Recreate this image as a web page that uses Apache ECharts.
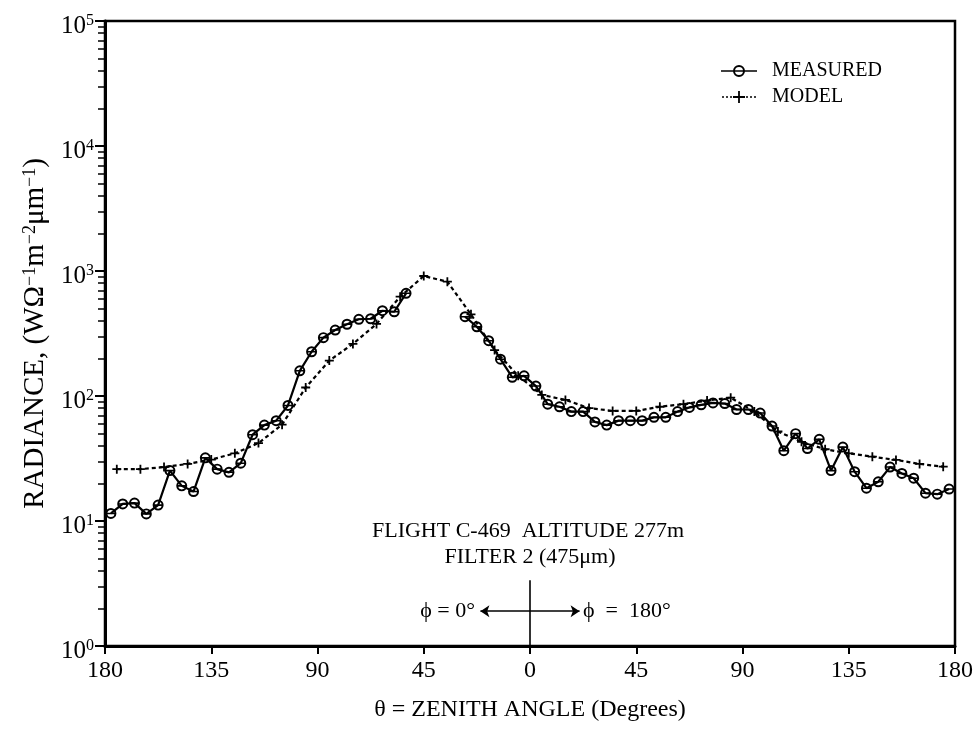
<!DOCTYPE html>
<html>
<head>
<meta charset="utf-8">
<script src="https://cdn.jsdelivr.net/npm/echarts@6/dist/echarts.min.js"></script>
<style>
  html, body { margin: 0; padding: 0; background: #fff; }
  #chart { width: 978px; height: 734px; }
</style>
</head>
<body>
<div id="chart"></div>
<script>
// Zenith angle in degrees: negative = phi 0° side, positive = phi 180° side
const measuredAngle = [
  -177.5, -172.5, -167.5, -162.5, -157.5, -152.5, -147.5, -142.5, -137.5, -132.5,
  -127.5, -122.5, -117.5, -112.5, -107.5, -102.5, -97.5, -92.5, -87.5, -82.5,
  -77.5, -72.5, -67.5, -62.5, -57.5, -52.5, -40,
  -27.5, -22.5, -17.5, -12.5, -7.5, -2.5, 2.5, 7.5, 12.5, 17.5,
  22.5, 27.5, 32.5, 37.5, 42.5, 47.5, 52.5, 57.5, 62.5, 67.5,
  72.5, 77.5, 82.5, 87.5, 92.5, 97.5, 102.5, 107.5, 112.5, 117.5,
  122.5, 127.5, 132.5, 137.5, 142.5, 147.5, 152.5, 157.5, 162.5, 167.5,
  172.5, 177.5
];
// Radiance (W Ω^-1 m^-2 µm^-1); null marks the gap around the sun direction
const measuredRadiance = [
  11.5, 13.7, 13.9, 11.4, 13.4, 25.3, 19.1, 17.2, 32, 26,
  24.5, 29, 49, 58.5, 63.5, 84, 159, 226, 293, 337,
  375, 411, 415, 481, 472, 663, null,
  431, 358, 277, 197, 141, 145, 120, 86, 82, 75,
  75, 62, 58.5, 63.5, 63.5, 63.5, 67.5, 67.5, 75, 81,
  85, 88, 87, 78, 78, 73, 57.5, 36.5, 50, 38,
  45, 25.3, 39, 24.8, 18.3, 20.6, 27, 24, 22, 16.7,
  16.4, 18
];
const modelAngle = [
  -175, -165, -155, -145, -135, -125, -115, -105, -95, -85,
  -75, -65, -55, -45, -35, -25, -15, -5, 5, 15,
  25, 35, 45, 55, 65, 75, 85, 95, 105, 115,
  125, 135, 145, 155, 165, 175
];
const modelRadiance = [
  26, 26, 27, 28.6, 31, 34.8, 42, 59, 117, 192,
  261, 377, 623, 912, 821, 450, 233, 145, 102, 93,
  80, 76, 76, 82, 86, 92, 97, 75, 52, 43,
  37.5, 34.8, 32.7, 30.8, 28.6, 27.2
];
const xTickLabels = ['180', '135', '90', '45', '0', '45', '90', '135', '180'];
const seriesNames = ['MEASURED', 'MODEL'];

const SERIF = "'Liberation Serif', 'DejaVu Serif', serif";

// theta-like marker: ring with a horizontal bar
const THETA = 'path://M10 0A10 10 0 1 1 10 20A10 10 0 1 1 10 0ZM10 3.6A6.4 6.4 0 1 0 10 16.4A6.4 6.4 0 1 0 10 3.6ZM1 8.6L19 8.6L19 11.4L1 11.4Z';
const PLUS = 'path://M8 0L12 0L12 20L8 20ZM0 8L20 8L20 12L0 12Z';
const THETA_LEGEND = 'path://M18 0A6 6 0 1 1 18 12A6 6 0 1 1 18 0ZM18 2A4 4 0 1 0 18 10A4 4 0 1 0 18 2ZM0 5.2L36 5.2L36 6.8L0 6.8Z';
const PLUS_LEGEND = 'path://M17.1 0L18.9 0L18.9 12L17.1 12ZM12 5.1L24 5.1L24 6.9L12 6.9ZM1 5.2L3 5.2L3 6.8L1 6.8ZM5 5.2L7 5.2L7 6.8L5 6.8ZM9 5.2L11 5.2L11 6.8L9 6.8ZM25 5.2L27 5.2L27 6.8L25 6.8ZM29 5.2L31 5.2L31 6.8L29 6.8ZM33 5.2L35 5.2L35 6.8L33 6.8Z';

// minor log ticks (2..9 per decade), in log10 units
const minorTicks = [];
for (let d = 0; d < 5; d++) {
  for (let k = 2; k <= 9; k++) minorTicks.push(d + Math.log10(k));
}

const pairs = (xs, ys) => xs.map((x, i) => [x, ys[i] == null ? '-' : ys[i]]);

const chart = echarts.init(document.getElementById('chart'), null, { renderer: 'canvas' });

const option = {
  animation: false,
  backgroundColor: '#fff',
  textStyle: { fontFamily: SERIF, color: '#000' },
  grid: {
    left: 105, right: 23, top: 21, bottom: 88,
    show: true, borderColor: '#000', borderWidth: 2.5, backgroundColor: 'transparent'
  },
  legend: {
    orient: 'vertical',
    left: 716, top: 56,
    itemWidth: 36, itemHeight: 12, itemGap: 6,
    data: [
      { name: seriesNames[0], icon: THETA_LEGEND, itemStyle: { color: '#000' } },
      { name: seriesNames[1], icon: PLUS_LEGEND, itemStyle: { color: '#000' } }
    ],
    textStyle: { fontFamily: SERIF, fontSize: 20, color: '#000', lineHeight: 20, padding: [0, 0, 0, 10] },
    selectedMode: false
  },
  xAxis: {
    type: 'value', min: -180, max: 180, interval: 45,
    name: 'θ = ZENITH ANGLE (Degrees)',
    nameLocation: 'middle', nameGap: 52,
    nameTextStyle: { fontFamily: SERIF, fontSize: 24, color: '#000' },
    axisLine: { show: true, onZero: false, lineStyle: { color: '#000', width: 3 } },
    axisTick: { show: true, inside: false, length: 8, lineStyle: { color: '#000', width: 2 } },
    axisLabel: {
      fontFamily: SERIF, fontSize: 24, color: '#000', margin: 13,
      formatter: v => xTickLabels[Math.round((v + 180) / 45)]
    },
    splitLine: { show: false }
  },
  yAxis: [
    {
      type: 'log', logBase: 10, min: 1, max: 100000,
      name: 'RADIANCE, (WΩ{s|−1}m{s|−2}μm{s|−1})',
      nameLocation: 'middle', nameGap: 55, nameRotate: 90,
      nameTextStyle: {
        fontFamily: SERIF, fontSize: 29, color: '#000',
        rich: { s: { fontFamily: SERIF, fontSize: 18, verticalAlign: 'top', color: '#000' } }
      },
      axisLine: { show: true, onZero: false, lineStyle: { color: '#000', width: 3 } },
      axisTick: { show: true, inside: false, length: 10, lineStyle: { color: '#000', width: 2 } },
      axisLabel: {
        margin: 11, color: '#000', padding: [10, 0, 0, 0],
        formatter: v => '{b|10}{e|' + Math.round(Math.log10(v)) + '}',
        rich: {
          b: { fontFamily: SERIF, fontSize: 25, color: '#000', lineHeight: 26 },
          e: { fontFamily: SERIF, fontSize: 16, color: '#000', verticalAlign: 'top' }
        }
      },
      splitLine: { show: false }
    },
    {
      // carries only the 2..9 minor ticks of each decade
      type: 'value', min: 0, max: 5, position: 'left',
      axisLine: { show: false, onZero: false },
      axisLabel: { show: false },
      splitLine: { show: false },
      axisTick: { show: true, inside: false, length: 7, customValues: minorTicks, lineStyle: { color: '#000', width: 1.5 } }
    }
  ],
  series: [
    {
      name: seriesNames[0],
      type: 'line',
      yAxisIndex: 0,
      data: pairs(measuredAngle, measuredRadiance),
      connectNulls: false,
      symbol: THETA,
      symbolSize: 11,
      showAllSymbol: true,
      lineStyle: { color: '#000', width: 2.2 },
      itemStyle: { color: '#000', borderWidth: 0 },
      z: 3,
      markLine: {
        silent: true,
        animation: false,
        label: { show: false },
        symbolSize: 9,
        lineStyle: { color: '#000', width: 1.6, type: 'solid' },
        data: [
          [{ coord: [0, 1], symbol: 'none' }, { coord: [0, 3.35], symbol: 'none' }],
          [{ coord: [0, 1.9], symbol: 'none' }, { coord: [-21, 1.9], symbol: 'arrow' }],
          [{ coord: [0, 1.9], symbol: 'none' }, { coord: [21, 1.9], symbol: 'arrow' }]
        ]
      }
    },
    {
      name: seriesNames[1],
      type: 'line',
      yAxisIndex: 0,
      data: pairs(modelAngle, modelRadiance),
      symbol: PLUS,
      symbolSize: 9,
      showAllSymbol: true,
      lineStyle: { color: '#000', width: 2.2, type: [4, 3] },
      itemStyle: { color: '#000', borderWidth: 0 },
      z: 2
    }
  ]
};

chart.setOption(option);

// Text annotations anchored to the data frame
const at = (x, y) => chart.convertToPixel({ xAxisIndex: 0, yAxisIndex: 0 }, [x, y]);
const pFlight = at(0, 8.3);
const pFilter = at(0, 5.15);
const pPhi = at(0, 1.9);
chart.setOption({
  graphic: [
    {
      type: 'text', x: pFlight[0] - 2, y: pFlight[1],
      style: { text: 'FLIGHT C-469  ALTITUDE 277m', fontFamily: SERIF, fontSize: 22, fill: '#000', align: 'center', verticalAlign: 'middle' }
    },
    {
      type: 'text', x: pFilter[0], y: pFilter[1],
      style: { text: 'FILTER 2 (475μm)', fontFamily: SERIF, fontSize: 22, fill: '#000', align: 'center', verticalAlign: 'middle' }
    },
    {
      type: 'text', x: pPhi[0] - 55, y: pPhi[1],
      style: { text: 'ϕ = 0°', fontFamily: SERIF, fontSize: 22, fill: '#000', align: 'right', verticalAlign: 'middle' }
    },
    {
      type: 'text', x: pPhi[0] + 53, y: pPhi[1],
      style: { text: 'ϕ  =  180°', fontFamily: SERIF, fontSize: 22, fill: '#000', align: 'left', verticalAlign: 'middle' }
    }
  ]
});
</script>
</body>
</html>
